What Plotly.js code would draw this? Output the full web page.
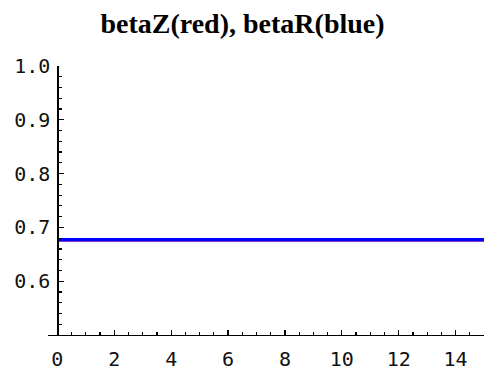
<!DOCTYPE html>
<html><head><meta charset="utf-8">
<script src="https://cdn.plot.ly/plotly-3.0.1.min.js"></script>
<style>html,body{margin:0;padding:0;background:#fff}#c{width:485px;height:372px}</style>
</head><body><div id="c"></div>
<script>
const xs = [0, 15];
const betaZ = [0.677, 0.677];
const betaR = [0.677, 0.677];
const xTicks = [0, 2, 4, 6, 8, 10, 12, 14];
const yTicks = [0.6, 0.7, 0.8, 0.9, 1.0];
const yTickText = ['0.6', '0.7', '0.8', '0.9', '1.0'];

const xMin = -0.33, xMax = 15;
const tickFont = {family: 'DejaVu Sans Mono, Liberation Mono, monospace', size: 20, color: '#111'};

const data = [
  {x: xs, y: betaZ, mode: 'lines', line: {color: '#ff0000', width: 3.5}, hoverinfo: 'skip'},
  {x: xs, y: betaR, mode: 'lines', line: {color: '#0000ff', width: 3.5}, hoverinfo: 'skip'}
];
const layout = {
  width: 485, height: 372,
  margin: {l: 48, r: 1, t: 66, b: 37, pad: 0},
  paper_bgcolor: '#fff', plot_bgcolor: '#fff',
  showlegend: false,
  title: {text: '<b>betaZ(red), betaR(blue)</b>', font: {family: 'Liberation Serif, Times New Roman, serif', size: 28, color: '#000'},
          x: 0.5, xanchor: 'center', xref: 'container', yref: 'container', y: 1 - 13 / 372, yanchor: 'top'},
  xaxis: {range: [xMin, xMax], showgrid: false, zeroline: false, showline: true, linecolor: '#000', linewidth: 1.3,
          tickmode: 'array', tickvals: xTicks, ticks: 'inside', ticklen: 5, tickwidth: 1.3, tickcolor: '#000',
          tickfont: tickFont, ticklabelstandoff: 6,
          minor: {dtick: 0.5, tick0: 0, ticks: 'inside', ticklen: 3, tickwidth: 1.2, tickcolor: '#000', showgrid: false}},
  yaxis: {range: [0.5, 1.0], showgrid: false, zeroline: false, showline: true, linecolor: '#000', linewidth: 1.3,
          anchor: 'free', position: (0 - xMin) / (xMax - xMin),
          tickmode: 'array', tickvals: yTicks, ticktext: yTickText, ticks: 'inside', ticklen: 5, tickwidth: 1.3, tickcolor: '#000',
          tickfont: tickFont, ticklabelstandoff: 3,
          minor: {dtick: 0.02, tick0: 0.5, ticks: 'inside', ticklen: 3, tickwidth: 1.2, tickcolor: '#000', showgrid: false}}
};
Plotly.newPlot('c', data, layout, {staticPlot: true});
</script></body></html>
